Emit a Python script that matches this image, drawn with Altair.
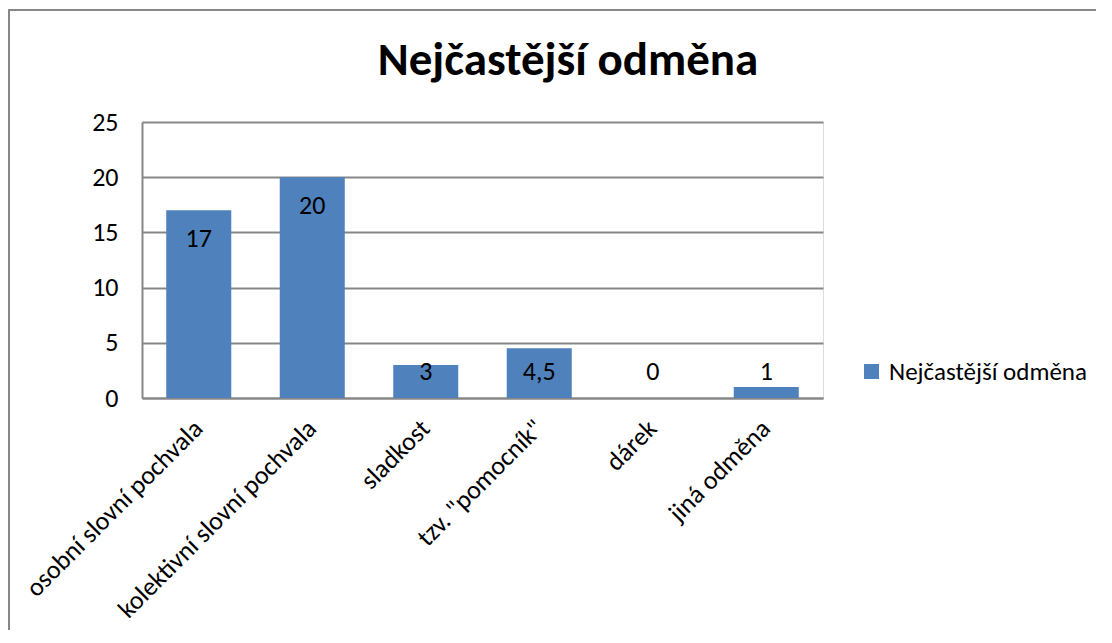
import altair as alt
import pandas as pd

categories = ["osobní slovní pochvala", "kolektivní slovní pochvala", "sladkost",
              "tzv. \"pomocník\"", "dárek", "jiná odměna"]
values = [17, 20, 3, 4.5, 0, 1]
series_name = "Nejčastější odměna"
title_text = "Nejčastější odměna"
y_ticks = [0, 5, 10, 15, 20, 25]

FONT = "Calibri, Carlito, Lato, sans-serif"
BLUE = "#4F81BD"
GRAY = "#878787"

df = pd.DataFrame({"cat": categories, "value": values, "series": series_name})

W, H = 681, 276

x = alt.X("cat:N", sort=categories, title=None,
          scale=alt.Scale(paddingInner=0.427, paddingOuter=0.2135),
          axis=alt.Axis(labelAngle=-45, labelAlign="right", labelBaseline="middle",
                        labelFontSize=26, labelFont=FONT, labelColor="#000",
                        labelPadding=26, ticks=False, domainColor=GRAY, domainWidth=2,
                        labelLimit=400))
y = alt.Y("value:Q", title=None,
          scale=alt.Scale(domain=[0, 25], nice=False),
          axis=alt.Axis(values=y_ticks, labelFontSize=26, labelFont=FONT, labelColor="#000",
                        labelPadding=24, ticks=False, domainColor=GRAY, domainWidth=2,
                        gridColor=GRAY, gridWidth=2, gridOpacity=1))

bars = alt.Chart(df).mark_bar(color=BLUE).encode(
    x=x, y=y,
    color=alt.Color("series:N", scale=alt.Scale(range=[BLUE]), title=None,
                    legend=alt.Legend(orient="none", legendX=717, legendY=237,
                                      symbolType="square", symbolSize=225,
                                      symbolStrokeWidth=0, labelOffset=5,
                                      labelFontSize=25, labelFont=FONT, labelColor="#000",
                                      labelLimit=400))
)

labels = alt.Chart(df).transform_calculate(
    ly="max(datum.value - 2.6, 2.35)",
    txt="replace(toString(datum.value), '.', ',')"
).mark_text(fontSize=26, font=FONT, color="#000", baseline="middle").encode(
    x=alt.X("cat:N", sort=categories),
    y=alt.Y("ly:Q"),
    text="txt:N"
)

title = alt.Chart(df).transform_filter("datum.cat == 'dárek'").mark_text(
    text=title_text, fontSize=47, fontWeight="bold", font=FONT, color="#000",
    baseline="alphabetic", align="center"
).encode(x=alt.value(426), y=alt.value(-47))

border_top = alt.Chart(df).transform_filter("datum.cat == 'dárek'").mark_rule(
    color=GRAY, strokeWidth=2).encode(
    x=alt.value(-134), x2=alt.value(954), y=alt.value(-112))
border_left = alt.Chart(df).transform_filter("datum.cat == 'dárek'").mark_rule(
    color=GRAY, strokeWidth=2).encode(
    x=alt.value(-133), y=alt.value(-112), y2=alt.value(508))

chart = alt.layer(bars, labels, title, border_top, border_left).properties(
    width=W, height=H,
    autosize=alt.AutoSizeParams(type="none"),
    padding={"left": 134, "top": 114, "right": 281, "bottom": 232},
).configure_view(stroke=GRAY, strokeWidth=2).configure(background="white")

chart.save("out.html", embed_options={"renderer": "svg", "actions": False})
